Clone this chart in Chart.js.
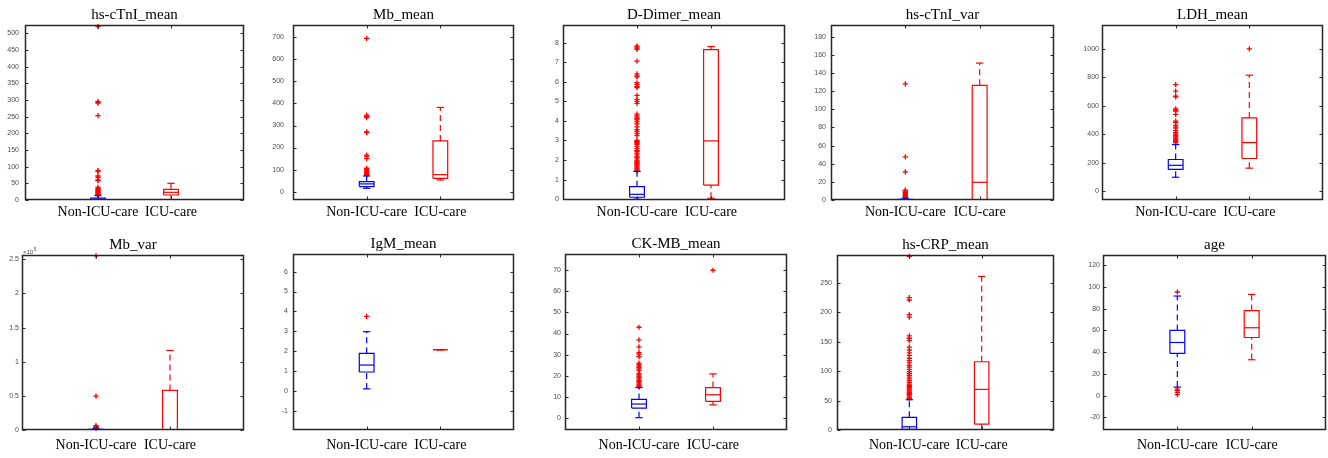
<!DOCTYPE html>
<html><head><meta charset="utf-8">
<script src="https://cdn.jsdelivr.net/npm/chart.js@4.4.1/dist/chart.umd.min.js"></script>
<style>
html,body{margin:0;padding:0;background:#fff;}
body{width:1328px;height:458px;position:relative;overflow:hidden;}
canvas.p{position:absolute;}
</style></head><body>
<script>
// ---------- DATA ----------
const categories = ['Non-ICU-care', 'ICU-care'];
const categoryPositions = [1, 2];
const panelTitles = ['hs-cTnI_mean','Mb_mean','D-Dimer_mean','hs-cTnI_var','LDH_mean','Mb_var','IgM_mean','CK-MB_mean','hs-CRP_mean','age'];

// box stats: [lower whisker, Q1, median, Q3, upper whisker]
const hsCTnIMeanNon = [0, 1, 3, 6, 13];
const hsCTnIMeanIcu = [0, 15, 23, 32, 50];
const hsCTnIMeanOutNon = [520, 295, 293, 291, 253, 88, 86, 72, 68, 60, 58, 38, 34, 31, 29, 27, 25, 23, 21, 19, 17, 15];
const hsCTnIMeanOutIcu = [];
const hsCTnIMeanTicks = [0, 50, 100, 150, 200, 250, 300, 350, 400, 450, 500];

const mbMeanNon = [15, 23, 35, 45, 71];
const mbMeanIcu = [53, 60, 77, 230, 382];
const mbMeanOutNon = [695, 347, 341, 336, 271, 268, 166, 160, 150, 106, 102, 98, 94, 90, 86, 82, 78, 75];
const mbMeanOutIcu = [];
const mbMeanTicks = [0, 100, 200, 300, 400, 500, 600, 700];

const dDimerMeanNon = [0, 0.1, 0.25, 0.64, 1.42];
const dDimerMeanIcu = [0.05, 0.72, 2.98, 7.64, 7.8];
const dDimerMeanOutNon = [7.82, 7.78, 7.72, 7.65, 7.05, 6.4, 6.3, 6.25, 5.95, 5.85, 5.75, 5.7, 5.3, 5.1, 5.0, 4.9,
  4.35, 4.25, 4.15, 4.1, 4.05, 3.95, 3.85, 3.7, 3.55, 3.45, 3.35, 3.25, 3.0, 2.95, 2.9, 2.85, 2.8, 2.7,
  2.6, 2.5, 2.45, 2.35, 2.3, 2.2, 2.15, 2.1, 2.0, 1.95, 1.9, 1.85, 1.8, 1.75, 1.7, 1.65, 1.6, 1.55, 1.5, 1.45];
const dDimerMeanOutIcu = [];
const dDimerMeanTicks = [0, 1, 2, 3, 4, 5, 6, 7, 8];

const hsCTnIVarNon = [0, 0.1, 0.3, 0.8, 2];
const hsCTnIVarIcu = [0, 0, 19.5, 126.5, 151];
const hsCTnIVarOutNon = [128, 47.5, 31, 11, 10, 9, 8, 7, 6, 5, 4.2, 3.5, 3];
const hsCTnIVarOutIcu = [];
const hsCTnIVarTicks = [0, 20, 40, 60, 80, 100, 120, 140, 160, 180];

const ldhMeanNon = [97, 152, 181, 222, 327];
const ldhMeanIcu = [161, 229, 341, 514, 815];
const ldhMeanOutNon = [748, 703, 668, 662, 578, 570, 563, 540, 492, 482, 462, 450, 443, 425, 410, 400, 390, 380, 372, 365, 358, 352, 346, 340];
const ldhMeanOutIcu = [1000];
const ldhMeanTicks = [0, 200, 400, 600, 800, 1000];

const mbVarNon = [0, 100, 300, 800, 1800];
const mbVarIcu = [0, 0, 0, 58000, 116500];
const mbVarOutNon = [255000, 49500, 6500, 5000, 4000, 3200, 2600];
const mbVarOutIcu = [];
const mbVarTicks = [0, 50000, 100000, 150000, 200000, 250000];

const igmMeanNon = [0.1, 0.95, 1.3, 1.89, 2.98];
const igmMeanIcu = [2.07, 2.07, 2.07, 2.07, 2.07];
const igmMeanOutNon = [3.75];
const igmMeanOutIcu = [];
const igmMeanTicks = [-1, 0, 1, 2, 3, 4, 5, 6];

const ckmbMeanNon = [0.15, 4.7, 6.6, 8.8, 14.4];
const ckmbMeanIcu = [6.2, 7.9, 11, 14.4, 20.9];
const ckmbMeanOutNon = [43, 37, 33.7, 31, 30.3, 29, 26, 25.3, 24.6, 24, 23.2, 22.3, 21, 20.4, 19.8, 19.2, 18.5, 17.8, 17.2, 16.6, 16, 15.4, 14.9];
const ckmbMeanOutIcu = [70];
const ckmbMeanTicks = [0, 10, 20, 30, 40, 50, 60, 70];

const hsCrpMeanNon = [0, 1, 5.5, 21.5, 51.5];
const hsCrpMeanIcu = [0, 10, 69, 116, 261];
const hsCrpMeanOutNon = [295, 225, 221, 196, 192, 160, 156, 152, 141, 136, 131, 127, 122, 118, 114, 110, 107, 103, 99, 96, 93, 90, 87, 84, 81, 78, 76, 74, 72, 70, 68, 66, 64, 62, 60, 58, 56, 54];
const hsCrpMeanOutIcu = [];
const hsCrpMeanTicks = [0, 50, 100, 150, 200, 250];

const ageNon = [7.8, 38.8, 48.9, 60, 91.7];
const ageIcu = [33, 53.5, 62.5, 78.3, 93.2];
const ageOutNon = [95.4, 6, 4.5, 3, 0.8];
const ageOutIcu = [];
const ageTicks = [-20, 0, 20, 40, 60, 80, 100, 120];

// y-axis limits [min, max]
const yLimits = [[0, 525], [-38, 756], [-0.04, 8.9], [0, 193], [-63, 1168],
                 [0, 256300], [-1.97, 6.89], [-5.7, 77.7], [0, 297.5], [-31.7, 129.5]];

// ---------- LAYOUT (axes box: left, top, right, bottom) ----------
const frames = [[25,25,244,200],[293,25,514,200],[563,25,785,200],[831,25,1054,200],[1102,25,1323,200],
                [22,255,244,430],[293,254,514,430],[565,254,787,430],[837,255,1054,430],[1103,255,1326,430]];
const yLabelPad = [6, 9, 4, 5, 3, 3, 5, 4, 5, 3];
const xLabelPad = [4, 4, 4, 4, 4, 7, 7, 7, 7, 7];

const boxes = [[hsCTnIMeanNon, hsCTnIMeanIcu],[mbMeanNon, mbMeanIcu],[dDimerMeanNon, dDimerMeanIcu],[hsCTnIVarNon, hsCTnIVarIcu],[ldhMeanNon, ldhMeanIcu],
               [mbVarNon, mbVarIcu],[igmMeanNon, igmMeanIcu],[ckmbMeanNon, ckmbMeanIcu],[hsCrpMeanNon, hsCrpMeanIcu],[ageNon, ageIcu]];
const outliers = [[hsCTnIMeanOutNon, hsCTnIMeanOutIcu],[mbMeanOutNon, mbMeanOutIcu],[dDimerMeanOutNon, dDimerMeanOutIcu],[hsCTnIVarOutNon, hsCTnIVarOutIcu],[ldhMeanOutNon, ldhMeanOutIcu],
                  [mbVarOutNon, mbVarOutIcu],[igmMeanOutNon, igmMeanOutIcu],[ckmbMeanOutNon, ckmbMeanOutIcu],[hsCrpMeanOutNon, hsCrpMeanOutIcu],[ageOutNon, ageOutIcu]];
const tickSets = [hsCTnIMeanTicks, mbMeanTicks, dDimerMeanTicks, hsCTnIVarTicks, ldhMeanTicks, mbVarTicks, igmMeanTicks, ckmbMeanTicks, hsCrpMeanTicks, ageTicks];
const exponents = [0,0,0,0,0,5,0,0,0,0];

const groupColors = ['#0000ff', '#ff0000'];
const outlierColor = '#ff0000';
const BOX_HALF = 0.1, CAP_HALF = 0.05;

const framePlugin = {
  id: 'frame',
  afterDraw(chart, args, opts) {
    const {ctx, chartArea: a, scales} = chart;
    ctx.save();
    ctx.strokeStyle = '#262626';
    ctx.lineWidth = 1.5;
    const l = Math.round(a.left) + 0.5, r = Math.round(a.right) - 0.5;
    const t = Math.round(a.top) + 0.5, b = Math.round(a.bottom) - 0.5;
    ctx.strokeRect(l, t, r - l, b - t);
    ctx.lineWidth = 1;
    ctx.beginPath();
    scales.y.ticks.forEach(tk => {
      const y = Math.round(scales.y.getPixelForValue(tk.value)) + 0.5;
      ctx.moveTo(l, y); ctx.lineTo(l + 3, y);
      ctx.moveTo(r, y); ctx.lineTo(r - 3, y);
    });
    scales.x.ticks.forEach(tk => {
      const x = Math.round(scales.x.getPixelForValue(tk.value)) + 0.5;
      ctx.moveTo(x, b); ctx.lineTo(x, b - 3);
      ctx.moveTo(x, t); ctx.lineTo(x, t + 3);
    });
    ctx.stroke();
    if (opts && opts.exponent) {
      ctx.fillStyle = '#4d4d4d';
      ctx.textBaseline = 'alphabetic';
      ctx.font = '6px "Liberation Sans", Arial, sans-serif';
      ctx.fillText('\u00d710', a.left + 1, a.top - 1);
      const w = ctx.measureText('\u00d710').width;
      ctx.font = '5px "Liberation Sans", Arial, sans-serif';
      ctx.fillText(String(opts.exponent), a.left + 1 + w + 0.5, a.top - 4);
    }
    ctx.restore();
  }
};

function seg(points, color, dash) {
  return {type: 'scatter', data: points, showLine: true, borderColor: color, backgroundColor: color,
          borderWidth: 1.2, pointRadius: 0, borderDash: dash || [], spanGaps: false, tension: 0};
}

function buildDatasets(i) {
  const ds = [];
  categoryPositions.forEach((p, g) => {
    const [lo, q1, med, q3, hi] = boxes[i][g];
    const c = groupColors[g];
    ds.push(seg([{x: p, y: q3}, {x: p, y: hi}], c, [6, 4]));
    ds.push(seg([{x: p, y: lo}, {x: p, y: q1}], c, [6, 4]));
    ds.push(seg([{x: p - CAP_HALF, y: hi}, {x: p + CAP_HALF, y: hi}], c));
    ds.push(seg([{x: p - CAP_HALF, y: lo}, {x: p + CAP_HALF, y: lo}], c));
    ds.push(seg([{x: p - BOX_HALF, y: q1}, {x: p + BOX_HALF, y: q1}, {x: p + BOX_HALF, y: q3},
                 {x: p - BOX_HALF, y: q3}, {x: p - BOX_HALF, y: q1}], c));
    ds.push(seg([{x: p - BOX_HALF, y: med}, {x: p + BOX_HALF, y: med}], c));
    ds.push({type: 'scatter', data: outliers[i][g].map(v => ({x: p, y: v})), showLine: false, clip: 4,
             pointStyle: 'cross', pointRadius: 2.6, borderWidth: 1.3, borderColor: outlierColor, backgroundColor: outlierColor});
  });
  return ds;
}

const serif = '"Liberation Serif", "Times New Roman", serif';
const sans = '"Liberation Sans", Arial, Helvetica, sans-serif';
const Y_W = 40, TITLE_H = 26, X_H = 30;

panelTitles.forEach((title, i) => {
  const [L, T, R, B] = frames[i];
  const cv = document.createElement('canvas');
  cv.className = 'p';
  const w = (R - L) + 2 * Y_W, h = TITLE_H + (B - T) + X_H;
  cv.width = w; cv.height = h;
  cv.style.left = (L - Y_W) + 'px'; cv.style.top = (T - TITLE_H) + 'px';
  cv.style.width = w + 'px'; cv.style.height = h + 'px';
  document.body.appendChild(cv);
  const ticks = tickSets[i];
  const exp = exponents[i];
  new Chart(cv, {
    type: 'scatter',
    data: {datasets: buildDatasets(i)},
    options: {
      responsive: false, animation: false, events: [],
      layout: {padding: 0},
      plugins: {
        legend: {display: false}, tooltip: {enabled: false},
        title: {display: true, text: title, color: '#000',
                font: {family: serif, size: 15, weight: 'normal', lineHeight: 1.2},
                padding: {top: 7, bottom: 1}},
        frame: {exponent: exp}
      },
      scales: {
        x: {type: 'linear', min: 0, max: 3,
            afterBuildTicks: s => { s.ticks = categoryPositions.map(v => ({value: v})); },
            afterFit: s => { s.height = X_H; },
            grid: {display: false, drawTicks: false}, border: {display: false},
            ticks: {padding: xLabelPad[i], color: '#000', autoSkip: false, maxRotation: 0,
                    font: {family: serif, size: 14},
                    callback: v => categories[categoryPositions.indexOf(v)]}},
        y: {type: 'linear', min: yLimits[i][0], max: yLimits[i][1],
            afterBuildTicks: s => { s.ticks = ticks.map(v => ({value: v})); },
            afterFit: s => { s.width = Y_W; },
            grid: {display: false, drawTicks: false}, border: {display: false},
            ticks: {padding: yLabelPad[i], color: '#4d4d4d', font: {family: sans, size: 7},
                    callback: v => exp ? String(+(v / Math.pow(10, exp)).toFixed(2)) : String(v)}},
        yBalance: {type: 'linear', position: 'right', min: 0, max: 1,
            afterFit: s => { s.width = Y_W; },
            grid: {display: false, drawTicks: false}, border: {display: false},
            ticks: {display: false}}
      }
    },
    plugins: [framePlugin]
  });
});
</script>
</body></html>
